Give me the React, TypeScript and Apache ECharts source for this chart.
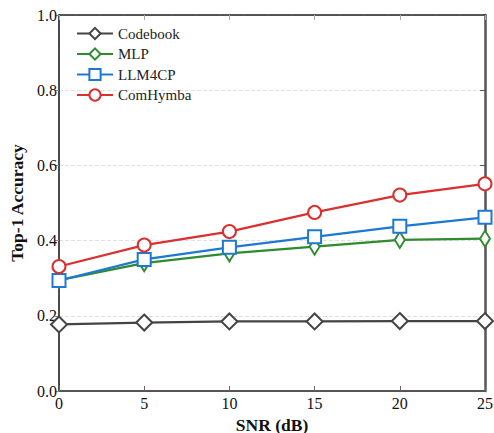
import React, { useEffect, useRef } from "react";
import * as echarts from "echarts";

const snr = [0, 5, 10, 15, 20, 25];
const codebook = [0.177, 0.182, 0.185, 0.185, 0.186, 0.186];
const mlp = [0.295, 0.340, 0.366, 0.384, 0.402, 0.405];
const llm4cp = [0.294, 0.350, 0.382, 0.410, 0.438, 0.462];
const comhymba = [0.331, 0.388, 0.424, 0.475, 0.521, 0.551];

const FONT = "'Liberation Serif', 'Times New Roman', serif";

export default function App() {
  const ref = useRef<HTMLDivElement>(null);
  useEffect(() => {
    if (!ref.current) return;
    const chart = echarts.init(ref.current, undefined, { renderer: "svg" });
    const mk = (name: string, data: number[], color: string, symbol: string, size: any) => ({
      name,
      type: "line",
      data: snr.map((x, i) => [x, data[i]]),
      symbol,
      symbolSize: size,
      showAllSymbol: true,
      lineStyle: { color, width: 2.2 },
      itemStyle: { color: "#fff", borderColor: color, borderWidth: 2 },
      emphasis: { disabled: true },
      z: 3,
    });
    chart.setOption({
      animation: false,
      textStyle: { fontFamily: FONT },
      grid: { left: 59, right: 9, top: 15, bottom: 42, outerBoundsMode: "none", containLabel: false },
      legend: {
        orient: "vertical",
        left: 71,
        top: 21,
        itemWidth: 36,
        itemHeight: 14,
        itemGap: 5.5,
        textStyle: { fontFamily: FONT, fontSize: 15, color: "#222" },
        data: ["Codebook", "MLP", "LLM4CP", "ComHymba"],
      },
      xAxis: [
        {
          type: "value",
          min: 0,
          max: 25,
          interval: 5,
          name: "SNR (dB)",
          nameLocation: "middle",
          nameGap: 23,
          nameTextStyle: {
            fontFamily: FONT,
            fontSize: 17.5,
            fontWeight: "bold",
            color: "#111",
            lineHeight: 17,
          },
          axisLine: { onZero: false, lineStyle: { color: "#555", width: 2 } },
          axisTick: { inside: true, length: 5, lineStyle: { color: "#666" } },
          axisLabel: { fontFamily: FONT, fontSize: 16, color: "#111", margin: 4 },
          splitLine: { show: false },
        },
        {
          type: "value",
          position: "top",
          min: 0,
          max: 25,
          interval: 5,
          axisLine: { show: true, onZero: false, lineStyle: { color: "#222", width: 1.5 } },
          axisTick: { show: true, inside: true, length: 5, lineStyle: { color: "#aaa" } },
          axisLabel: { show: false },
          splitLine: { show: false },
        },
      ],
      yAxis: [
        {
          type: "value",
          min: 0,
          max: 1,
          interval: 0.2,
          name: "Top-1 Accuracy",
          nameLocation: "middle",
          nameGap: 32,
          nameTextStyle: { fontFamily: FONT, fontSize: 17.5, fontWeight: "bold", color: "#111" },
          axisLine: { show: true, onZero: false, lineStyle: { color: "#111", width: 1.5 } },
          axisTick: { show: true, length: 4, lineStyle: { color: "#888" } },
          axisLabel: {
            fontFamily: FONT,
            fontSize: 16,
            color: "#111",
            margin: 2,
            formatter: (v: number) => v.toFixed(1),
          },
          splitLine: { show: true, lineStyle: { color: "#e0e0e0", type: "dashed", width: 1 } },
        },
        {
          type: "value",
          position: "right",
          min: 0,
          max: 1,
          interval: 0.2,
          axisLine: { show: true, onZero: false, lineStyle: { color: "#555", width: 2.5 } },
          axisTick: { show: true, inside: true, length: 5, lineStyle: { color: "#555" } },
          axisLabel: { show: false },
          splitLine: { show: false },
        },
      ],
      series: [
        mk("Codebook", codebook, "#444444", "diamond", 16),
        mk("MLP", mlp, "#2e8b2e", "path://M0,-1 L0.6,0 L0,1 L-0.6,0 Z", [10, 16]),
        mk("LLM4CP", llm4cp, "#1e78d2", "rect", 13),
        mk("ComHymba", comhymba, "#d93030", "circle", 13),
      ],
    });
    return () => chart.dispose();
  }, []);
  return (
    <div
      ref={ref}
      style={{ position: "absolute", left: 0, top: 0, width: 494, height: 433 }}
    />
  );
}
